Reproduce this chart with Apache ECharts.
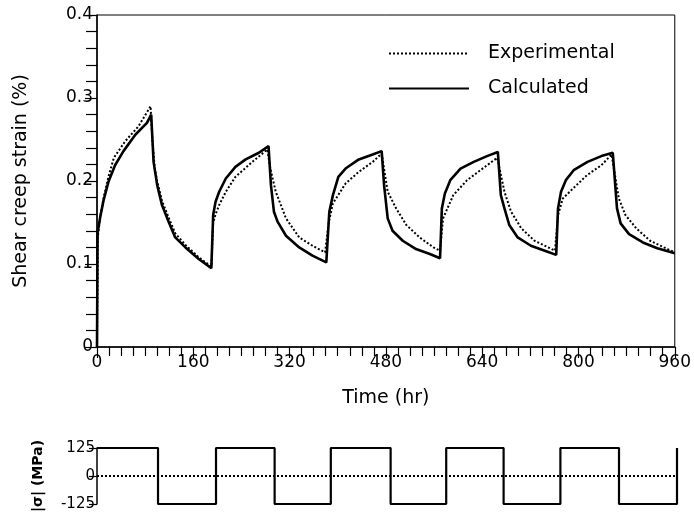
<!DOCTYPE html>
<html>
<head>
<meta charset="utf-8">
<script src="https://cdn.jsdelivr.net/npm/echarts@6/dist/echarts.min.js"></script>
<style>
html,body{margin:0;padding:0;background:#fff;}
#chart{width:694px;height:521px;}
</style>
</head>
<body>
<div id="chart"></div>
<script>
// Calculated shear creep strain (%) vs time (hr)
const timeCalc = [0,1,5,11,19,30,44,64,83,90,94,100,108,119,130,147,169,190,
  193,197,203,214,230,247,269,285,289,294,300,314,336,358,381,
  386,392,401,413,435,458,473,477,483,491,508,530,553,570,
  573,578,587,604,626,648,666,671,677,685,699,721,744,763,
  766,771,779,792,815,838,857,864,870,884,907,931,960];
const strainCalc = [0,0.138,0.155,0.177,0.199,0.219,0.236,0.256,0.270,0.280,0.223,0.195,0.171,0.151,0.132,0.120,0.106,0.095,
  0.159,0.175,0.187,0.203,0.217,0.226,0.234,0.242,0.195,0.163,0.151,0.134,0.120,0.110,0.102,
  0.163,0.183,0.205,0.215,0.226,0.232,0.236,0.195,0.155,0.140,0.128,0.118,0.112,0.107,
  0.167,0.185,0.201,0.215,0.223,0.230,0.235,0.183,0.167,0.147,0.132,0.122,0.116,0.111,
  0.167,0.187,0.201,0.213,0.223,0.230,0.234,0.167,0.149,0.136,0.126,0.119,0.113];

// Experimental shear creep strain (%)
const timeExp = [0,1,5,11,19,28,47,69,89,92,96,100,108,119,130,147,169,190,
  193,197,203,214,230,258,283,288,297,314,336,358,379,
  385,392,413,435,458,473,483,497,514,536,559,570,
  575,592,615,637,665,677,688,705,727,761,
  766,774,791,814,838,855,867,878,896,919,942,960];
const strainExp = [0,0.13,0.155,0.18,0.205,0.228,0.248,0.266,0.29,0.25,0.215,0.2,0.176,0.156,0.137,0.123,0.108,0.097,
  0.15,0.16,0.171,0.187,0.205,0.223,0.238,0.215,0.187,0.155,0.132,0.122,0.114,
  0.15,0.173,0.197,0.211,0.223,0.233,0.187,0.167,0.147,0.132,0.120,0.116,
  0.155,0.183,0.201,0.213,0.228,0.187,0.163,0.143,0.128,0.116,
  0.159,0.179,0.191,0.207,0.219,0.232,0.179,0.159,0.143,0.128,0.120,0.114];

// Applied shear stress |σ| (MPa): switch times and levels
const stressTimes = [0,101,197,294,387,486,578,673,767,864,960];
const stressLevels = [125,-125,125,-125,125,-125,125,-125,125,-125,125];
const zeroLineTimes = [0,960];
const zeroLineLevels = [0,0];

const FONT = 'DejaVu Sans';
const pair = (xs, ys) => xs.map((x, i) => [x, ys[i]]);

const chart = echarts.init(document.getElementById('chart'), null, {renderer:'canvas'});
chart.setOption({
  backgroundColor:'#fff',
  animation:false,
  legend:{
    data:['Experimental','Calculated'],
    orient:'vertical',
    left:388, top:44, padding:0,
    itemWidth:80, itemHeight:14, itemGap:16,
    itemStyle:{color:'rgba(0,0,0,0)', borderColor:'rgba(0,0,0,0)', borderWidth:0, opacity:0},
    textStyle:{fontFamily:FONT, fontSize:19, color:'#000', padding:[0,0,0,14]}
  },
  grid:[
    {left:97, right:17, top:15, height:332, show:true, borderColor:'#000', borderWidth:1, backgroundColor:'transparent'},
    {left:97, right:17, top:448, height:56}
  ],
  xAxis:[
    {gridIndex:0, type:'value', min:0, max:960, interval:160,
     name:'Time (hr)', nameLocation:'middle', nameGap:42,
     nameTextStyle:{fontFamily:FONT, fontSize:19, color:'#000'},
     axisLine:{lineStyle:{color:'#000', width:1.5}},
     axisTick:{show:true, inside:false, length:11, lineStyle:{color:'#000', width:1.2}},
     minorTick:{show:true, splitNumber:8, length:9, lineStyle:{color:'#000', width:1.2}},
     axisLabel:{fontFamily:FONT, fontSize:17, color:'#000', margin:7},
     splitLine:{show:false}},
    {gridIndex:1, type:'value', min:0, max:960, show:false}
  ],
  yAxis:[
    {gridIndex:0, type:'value', min:0, max:0.4, interval:0.1,
     name:'Shear creep strain (%)', nameLocation:'middle', nameGap:66,
     nameTextStyle:{fontFamily:FONT, fontSize:19, color:'#000'},
     axisLine:{show:true, lineStyle:{color:'#000', width:1.5}},
     axisTick:{show:true, inside:false, length:12, lineStyle:{color:'#000', width:1.2}},
     minorTick:{show:true, splitNumber:5, length:11, lineStyle:{color:'#000', width:1.2}},
     axisLabel:{fontFamily:FONT, fontSize:17, color:'#000', margin:4},
     splitLine:{show:false}},
    {gridIndex:1, type:'value', min:-125, max:125, interval:125,
     name:'|σ| (MPa)', nameLocation:'middle', nameGap:52,
     nameTextStyle:{fontFamily:FONT, fontSize:14, fontWeight:'bold', color:'#000'},
     axisLine:{show:true, lineStyle:{color:'#000', width:1.5}},
     axisTick:{show:true, inside:false, length:8, lineStyle:{color:'#000', width:1.2}},
     axisLabel:{fontFamily:FONT, fontSize:15, color:'#000', margin:2},
     splitLine:{show:false}}
  ],
  series:[
    {name:'Experimental', type:'line', xAxisIndex:0, yAxisIndex:0, symbol:'none',
     data:pair(timeExp, strainExp),
     lineStyle:{color:'#000', width:2, type:'dotted'}, itemStyle:{color:'#000'}},
    {name:'Calculated', type:'line', xAxisIndex:0, yAxisIndex:0, symbol:'none',
     data:pair(timeCalc, strainCalc),
     lineStyle:{color:'#000', width:2.6, type:'solid'}, itemStyle:{color:'#000'}},
    {name:'stress', type:'line', xAxisIndex:1, yAxisIndex:1, symbol:'none', step:'end',
     data:pair(stressTimes, stressLevels),
     lineStyle:{color:'#000', width:2.2}, itemStyle:{color:'#000'}},
    {name:'zero', type:'line', xAxisIndex:1, yAxisIndex:1, symbol:'none',
     data:pair(zeroLineTimes, zeroLineLevels),
     lineStyle:{color:'#000', width:2, type:'dotted'}, itemStyle:{color:'#000'}}
  ]
});
</script>
</body>
</html>
